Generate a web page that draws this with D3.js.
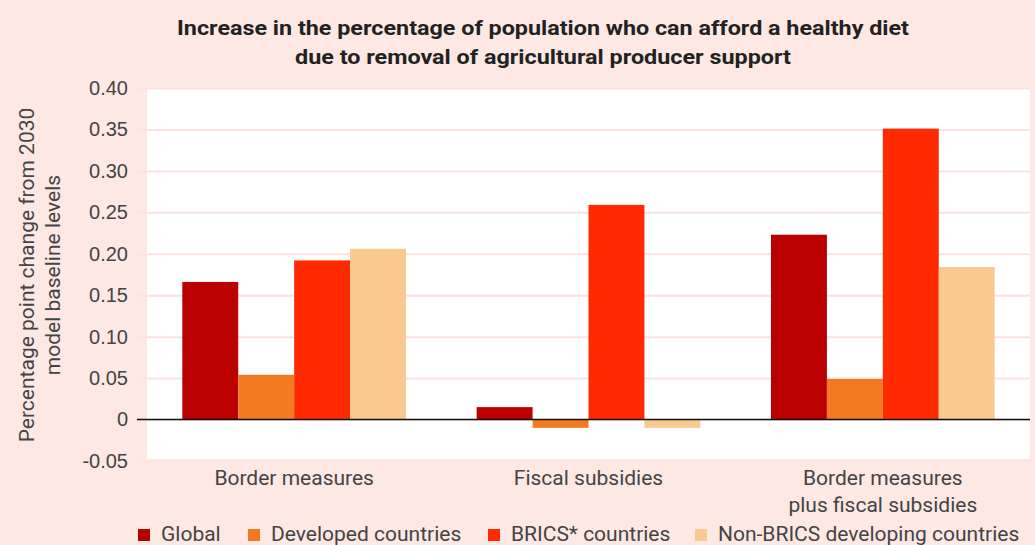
<!DOCTYPE html>
<html>
<head>
<meta charset="utf-8">
<script src="https://cdn.jsdelivr.net/npm/d3@7"></script>
<style>
  body { margin: 0; background: #fee8e4; }
  svg { display: block; font-family: Roboto, "Noto Sans", sans-serif; }
</style>
</head>
<body>
<script>
// chart data
var categories = ["Border measures", "Fiscal subsidies", "Border measures\nplus fiscal subsidies"];
var seriesNames = ["Global", "Developed countries", "BRICS* countries", "Non-BRICS developing countries"];
var seriesColors = ["#bb0000", "#f47a22", "#ff2a00", "#f9c98f"];
var globalVals = [0.166, 0.015, 0.223];
var developedVals = [0.054, -0.010, 0.049];
var bricsVals = [0.192, 0.259, 0.351];
var nonBricsVals = [0.206, -0.010, 0.184];
var yTicks = [-0.05, 0, 0.05, 0.10, 0.15, 0.20, 0.25, 0.30, 0.35, 0.40];

var seriesVals = [globalVals, developedVals, bricsVals, nonBricsVals];

var width = 1035, height = 545;
var plot = { left: 147, right: 1030, top: 88, bottom: 461 };

var svg = d3.select("body").append("svg")
    .attr("width", width)
    .attr("height", height);

// scales
var x0 = d3.scaleBand()
    .domain(d3.range(categories.length))
    .range([plot.left, plot.right])
    .paddingInner(0.24)
    .paddingOuter(0.12);

var x1 = d3.scaleBand()
    .domain(d3.range(seriesNames.length))
    .range([0, x0.bandwidth()]);

var y = d3.scaleLinear()
    .domain([-0.05, 0.40])
    .range([plot.bottom, plot.top]);

// plot background
svg.append("rect")
    .attr("x", plot.left)
    .attr("y", plot.top + 1)
    .attr("width", plot.right - plot.left)
    .attr("height", plot.bottom - plot.top - 3)
    .attr("fill", "#ffffff");

// y axis with gridlines
var yAxis = svg.append("g")
    .attr("transform", "translate(" + plot.left + ",0)")
    .call(d3.axisLeft(y)
        .tickValues(yTicks)
        .tickSize(-(plot.right - plot.left))
        .tickPadding(19)
        .tickFormat(function(d) { return d === 0 ? "0" : d3.format(".2f")(d).replace("\u2212", "-"); }));

yAxis.select(".domain").remove();
yAxis.selectAll(".tick line")
    .attr("x1", -10)
    .attr("stroke", "#fde3df")
    .attr("stroke-width", 2);
yAxis.selectAll(".tick text")
    .attr("font-size", 20)
    .attr("fill", "#444444");

// bars
var groups = svg.append("g")
  .selectAll("g")
  .data(categories)
  .enter().append("g")
    .attr("transform", function(d, i) { return "translate(" + x0(i) + ",0)"; });

groups.selectAll("rect")
  .data(function(d, i) {
    return seriesVals.map(function(vals, s) { return { s: s, v: vals[i] }; });
  })
  .enter().append("rect")
    .attr("x", function(d) { return x1(d.s); })
    .attr("width", x1.bandwidth())
    .attr("y", function(d) { return y(Math.max(0, d.v)); })
    .attr("height", function(d) { return Math.abs(y(d.v) - y(0)); })
    .attr("fill", function(d) { return seriesColors[d.s]; });

// zero line
svg.append("line")
    .attr("x1", plot.left - 10)
    .attr("x2", plot.right)
    .attr("y1", y(0))
    .attr("y2", y(0))
    .attr("stroke", "#111111")
    .attr("stroke-width", 1.5);

// category labels
svg.append("g")
  .selectAll("text")
  .data(categories)
  .enter().append("text")
    .attr("x", function(d, i) { return x0(i) + x0.bandwidth() / 2; })
    .attr("y", 485)
    .attr("text-anchor", "middle")
    .attr("font-size", 21)
    .attr("fill", "#444444")
  .selectAll("tspan")
  .data(function(d) { return d.split("\n"); })
  .enter().append("tspan")
    .attr("x", function() { return this.parentNode.getAttribute("x"); })
    .attr("dy", function(d, i) { return i === 0 ? 0 : 27; })
    .text(function(d) { return d; });

// y axis title
var yTitle = svg.append("text")
    .attr("transform", "translate(34,275) rotate(-90)")
    .attr("text-anchor", "middle")
    .attr("font-size", 21)
    .attr("fill", "#444444");
yTitle.append("tspan").attr("x", 0).attr("dy", 0).text("Percentage point change from 2030");
yTitle.append("tspan").attr("x", 0).attr("dy", 26).text("model baseline levels");

// title
var title = svg.append("g").attr("font-weight", "bold").attr("fill", "#222222").attr("font-size", 21);
title.append("text")
    .attr("x", 543).attr("y", 35)
    .attr("text-anchor", "middle")
    .attr("textLength", 732)
    .attr("lengthAdjust", "spacingAndGlyphs")
    .text("Increase in the percentage of population who can afford a healthy diet");
title.append("text")
    .attr("x", 543).attr("y", 64)
    .attr("text-anchor", "middle")
    .attr("textLength", 496)
    .attr("lengthAdjust", "spacingAndGlyphs")
    .text("due to removal of agricultural producer support");

// legend
var legendX = [138, 248, 488, 695];
var legend = svg.append("g")
  .selectAll("g")
  .data(seriesNames)
  .enter().append("g")
    .attr("transform", function(d, i) { return "translate(" + legendX[i] + ",529)"; });

legend.append("rect")
    .attr("width", 12)
    .attr("height", 12)
    .attr("fill", function(d, i) { return seriesColors[i]; });

legend.append("text")
    .attr("x", 23)
    .attr("y", 12)
    .attr("font-size", 21)
    .attr("fill", "#444444")
    .text(function(d) { return d; });
</script>
</body>
</html>
